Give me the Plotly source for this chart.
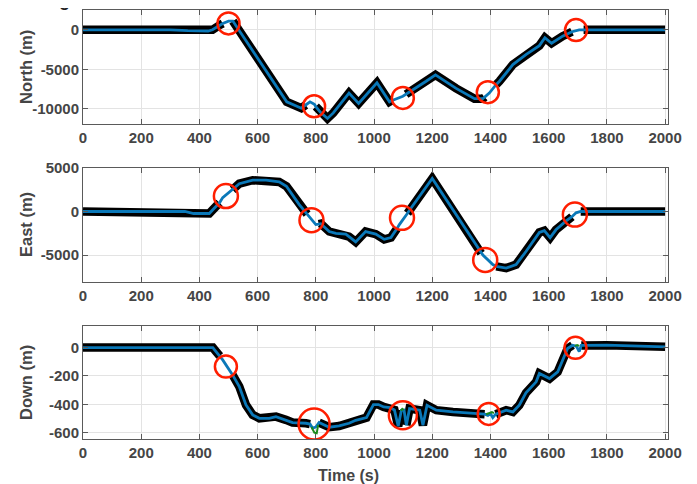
import plotly.graph_objects as go

# ---------------- data ----------------
north_t = [0, 300, 360, 430, 445, 470, 480, 500, 515, 700, 750, 765, 780, 795, 800, 815, 840, 860,
           914, 947, 1010, 1053, 1060, 1099, 1110, 1179, 1211, 1282, 1345, 1374, 1380, 1396, 1420,
           1431, 1477, 1523, 1568, 1587, 1610, 1648, 1680, 1694, 1705, 1720, 2000]
north_v = [0, 0, -100, -150, 0, 600, 800, 1100, 1100, -9100, -9900, -9500, -9100, -9400, -9700,
           -10400, -11200, -10500, -8000, -9300, -6700, -9100, -8950, -8400, -8150, -6500, -5700,
           -7400, -8700, -8700, -8500, -8000, -6900, -6500, -4400, -3100, -2000, -1000, -1700,
           -800, -250, -80, 0, 0, 0]
north_gaps = [(480, 515), (765, 800), (1060, 1110), (1380, 1420), (1680, 1720)]
north_circles_t = [500, 794, 1099, 1391, 1694]
north_circles_v = [805, -9660, -8600, -7880, -40]

east_t = [0, 350, 380, 434, 446, 469, 480, 514, 537, 583, 629, 674, 699, 743, 770, 800, 810, 817,
          846, 869, 903, 914, 937, 971, 1006, 1035, 1058, 1080, 1087, 1115, 1123, 1200, 1368, 1374,
          1408, 1420, 1454, 1488, 1522, 1568, 1585, 1605, 1625, 1659, 1680, 1694, 1710, 2000]
east_v = [0, 0, -230, -230, 200, 1000, 1600, 2500, 3200, 3600, 3600, 3400, 2900, 800, -300,
          -1500, -1450, -1400, -2300, -2500, -2600, -2900, -3500, -2300, -2600, -3200, -3000,
          -1900, -1500, -200, 200, 3800, -4800, -5000, -6100, -6300, -6500, -6100, -4600, -2400,
          -2200, -3000, -2100, -1100, -600, -150, 0, 0]
east_gaps = [(469, 514), (770, 810), (1080, 1115), (1368, 1420), (1680, 1710)]
east_circles_t = [491, 785, 1096, 1382, 1690]
east_circles_v = [1780, -1000, -730, -5560, -350]

down_t = [0, 446, 457, 470, 480, 514, 537, 560, 583, 606, 640, 663, 697, 720, 766, 780, 789, 800,
          811, 846, 880, 914, 937, 974, 998, 1015, 1033, 1055, 1070, 1083, 1094, 1103, 1111, 1122,
          1157, 1168, 1182, 1214, 1271, 1363, 1380, 1391, 1400, 1408, 1418, 1454, 1477, 1499, 1522,
          1557, 1568, 1603, 1631, 1648, 1665, 1682, 1695, 1705, 1712, 1800, 2000]
down_v = [0, 0, -28, -60, -87, -193, -275, -405, -475, -499, -500, -487, -510, -529, -534, -540,
          -569, -560, -529, -562, -553, -534, -513, -494, -402, -402, -419, -423, -440, -555, -442,
          -440, -548, -431, -442, -548, -407, -442, -454, -466, -470, -478, -465, -494, -470, -442,
          -454, -407, -320, -242, -183, -219, -172, -89, -7, 16, 10, -28, 15, 17, 5]
down_gaps = [(470, 514), (780, 811), (1094, 1111), (1380, 1418), (1682, 1712)]
down_circles_t = [491, 794, 1099, 1394, 1692]
down_circles_v = [-134, -539, -478, -468, -2]
down_circle_sizes = [22, 31, 28, 22, 22]

green_t = [[785, 795, 803, 808], [1092, 1097, 1102], [1385, 1398, 1405, 1412], [1690, 1698, 1705]]
green_v = [[-560, -600, -605, -545], [-445, -432, -440], [-470, -462, -455, -462], [12, 18, 12]]

x_ticks = [0, 200, 400, 600, 800, 1000, 1200, 1400, 1600, 1800, 2000]
north_ticks = [-10000, -5000, 0]
east_ticks = [-5000, 0, 5000]
down_ticks = [-600, -400, -200, 0]

# ---------------- styles ----------------
BLACK = "#000000"
BLUE = "#0a78b8"
GREEN = "#1b8a1b"
RED = "#ff1e00"
AX = "#5a5a5a"
TXT = "#454545"
GRID = "#e3e3e3"
FONT = "Liberation Sans"


def gapped(t, v, gaps):
    xs, ys = [], []
    for ti, vi in zip(t, v):
        if any(a < ti < b for a, b in gaps):
            if ys and ys[-1] is not None:
                xs.append(None)
                ys.append(None)
            continue
        xs.append(ti)
        ys.append(vi)
    return xs, ys


fig = go.Figure()

panels = [
    ("", "y", north_t, north_v, north_gaps, north_circles_t, north_circles_v, [22] * 5),
    ("2", "y2", east_t, east_v, east_gaps, east_circles_t, east_circles_v, [24] * 5),
    ("3", "y3", down_t, down_v, down_gaps, down_circles_t, down_circles_v, down_circle_sizes),
]

for sfx, yref, t, v, gaps, ct, cv, cs in panels:
    bx, by = gapped(t, v, gaps)
    fig.add_trace(go.Scatter(x=bx, y=by, mode="lines", line=dict(color=BLACK, width=8.5),
                             xaxis="x" + sfx, yaxis=yref, showlegend=False, hoverinfo="skip"))
    fig.add_trace(go.Scatter(x=t, y=v, mode="lines", line=dict(color=BLUE, width=2.8),
                             xaxis="x" + sfx, yaxis=yref, showlegend=False))
    if sfx == "3":
        for gt, gv in zip(green_t, green_v):
            fig.add_trace(go.Scatter(x=gt, y=gv, mode="lines", line=dict(color=GREEN, width=2),
                                     xaxis="x3", yaxis="y3", showlegend=False))
    fig.add_trace(go.Scatter(x=ct, y=cv, mode="markers",
                             marker=dict(symbol="circle-open", size=cs, color=RED, opacity=1,
                                         line=dict(color=RED, width=2.5)),
                             xaxis="x" + sfx, yaxis=yref, showlegend=False))

# page body has an 8px margin: figure is placed at (8, 8)
OFF = 8
W, HGT = 697 - OFF, 484 - OFF
ML, MR, MT, MB = 83 - OFF, 29, 10 - OFF, 45
H = HGT - MT - MB        # 429
PW = W - ML - MR         # 585


def dom(top_px, bot_px):
    return [1 - (bot_px - 10) / H, 1 - (top_px - 10) / H]


xcommon = dict(range=[0, 2010], tickvals=x_ticks, ticktext=["<b>%d</b>" % v for v in x_ticks],
               showgrid=True, gridcolor=GRID, gridwidth=1,
               zeroline=False, showline=True, linecolor=AX, linewidth=1, mirror="ticks",
               ticks="inside", ticklen=5, tickcolor=AX,
               tickfont=dict(family=FONT, size=15, color=TXT), domain=[0, 1])
ycommon = dict(showgrid=True, gridcolor=GRID, gridwidth=1, zeroline=False, showline=True,
               linecolor=AX, linewidth=1, mirror="ticks", ticks="inside", ticklen=5,
               tickcolor=AX, tickfont=dict(family=FONT, size=15, color=TXT))


def yt(vals):
    return ["<b>%d</b>" % v for v in vals]


fig.update_layout(
    width=W, height=HGT,
    margin=dict(l=ML, r=MR, t=MT, b=MB, autoexpand=False),
    paper_bgcolor="white", plot_bgcolor="white",
    font=dict(family=FONT, color=TXT),
    xaxis=dict(xcommon, anchor="y"),
    xaxis2=dict(xcommon, anchor="y2"),
    xaxis3=dict(xcommon, anchor="y3"),
    yaxis=dict(ycommon, range=[-11900, 2500], tickvals=north_ticks, ticktext=yt(north_ticks),
               domain=dom(10, 124), anchor="x"),
    yaxis2=dict(ycommon, range=[-8100, 5000], tickvals=east_ticks, ticktext=yt(east_ticks),
                domain=dom(168, 282), anchor="x2"),
    yaxis3=dict(ycommon, range=[-645, 152], tickvals=down_ticks, ticktext=yt(down_ticks),
                domain=dom(326, 439), anchor="x3"),
)

labels = [("North (m)", 67), ("East (m)", 225), ("Down (m)", 383)]
for txt, ypx in labels:
    fig.add_annotation(text="<b>%s</b>" % txt, xref="paper", yref="paper",
                       x=(26 - 83) / PW, y=1 - (ypx - 10) / H, textangle=-90,
                       showarrow=False, font=dict(family=FONT, size=16.5, color=TXT),
                       xanchor="center", yanchor="middle")
fig.add_annotation(text="<b>Time (s)</b>", xref="paper", yref="paper",
                   x=(348 - 83) / PW, y=1 - (475 - 10) / H, showarrow=False,
                   font=dict(family=FONT, size=16, color=TXT), xanchor="center", yanchor="middle")
# fragment of a title letter cut off at the top edge
fig.add_annotation(text="<b>g</b>", xref="paper", yref="paper",
                   x=(64 - 83) / PW, y=1 + (10 - 0) / H, showarrow=False,
                   font=dict(family=FONT, size=18, color="#222222"), xanchor="center", yanchor="middle")

fig.write_html("out.html")
